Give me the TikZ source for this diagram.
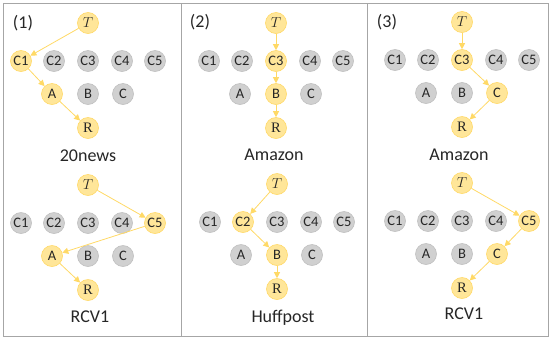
\documentclass[tikz,border=0pt]{standalone}
\usepackage{fontspec}
\setmainfont{Carlito}
\newfontfamily\serifR{Liberation Serif}
\usetikzlibrary{arrows.meta}
\definecolor{yfill}{HTML}{FFE699}
\definecolor{ydraw}{HTML}{FFD966}
\definecolor{gfill}{HTML}{D0D0D0}
\definecolor{gdraw}{HTML}{BFBFBF}
\definecolor{txt}{HTML}{262626}
\definecolor{frame}{HTML}{A6A6A6}
\newcommand\mkpanel[3]{%
  \node[sty T] (#1T) at (#2,#3) {$T$};
  \foreach \n/\dx in {C1/-67,C2/-34,C3/0,C4/34,C5/67}
    \node[sty \n] (#1\n) at (#2+\dx,#3+38) {\n};
  \foreach \n/\dx in {A/-36,B/0,C/35}
    \node[sty \n] (#1\n) at (#2+\dx,#3+71) {\n};
  \node[sty R] (#1R) at (#2,#3+105) {\serifR R};
}
\begin{document}
\begin{tikzpicture}[x=1pt,y=-1pt,
  base/.style={circle,inner sep=0pt,minimum size=21pt,line width=0.6pt,text=txt,font=\fontsize{14.5}{14.5}\selectfont},
  ynode/.style={base,fill=yfill,draw=ydraw},
  gnode/.style={base,fill=gfill,draw=gdraw},
  sty T/.style={ynode},sty R/.style={ynode},
  sty C1/.style={gnode},sty C2/.style={gnode},sty C3/.style={gnode},
  sty C4/.style={gnode},sty C5/.style={gnode},
  sty A/.style={gnode},sty B/.style={gnode},sty C/.style={gnode},
  arr/.style={draw=ydraw,line width=0.8pt,-{Triangle[length=6pt,width=6pt]}},
  lbl/.style={text=txt,font=\fontsize{18}{18}\selectfont,inner sep=0pt},
]
\useasboundingbox (0,0) rectangle (554,346);
\draw[frame,line width=1pt] (3,3) rectangle (548,336);
\draw[frame,line width=1pt] (181.5,3) -- (181.5,336);
\draw[frame,line width=1pt] (367,3) -- (367,336);

\node[lbl] (n1) at (23,23) {(1)};
\node[lbl] (n2) at (200,22) {(2)};
\node[lbl] (n3) at (387,22) {(3)};

% panel 1 top
\begin{scope}[sty C1/.style={ynode},sty A/.style={ynode}]
\mkpanel{a}{88}{23}
\end{scope}
\draw[arr] (aT) -- (aC1);
\draw[arr] (aC1) -- (aA);
\draw[arr] (aA) -- (aR);
\node[lbl] (la) at (88,156) {20news};

% panel 1 bottom
\begin{scope}[sty C5/.style={ynode},sty A/.style={ynode}]
\mkpanel{b}{88}{185}
\end{scope}
\draw[arr] (bT) -- (bC5);
\draw[arr] (bC5) -- (bA);
\draw[arr] (bA) -- (bR);
\node[lbl] (lb) at (90,317) {RCV1};

% panel 2 top
\begin{scope}[sty C3/.style={ynode},sty B/.style={ynode}]
\mkpanel{c}{276}{23}
\end{scope}
\draw[arr] (cT) -- (cC3);
\draw[arr] (cC3) -- (cB);
\draw[arr] (cB) -- (cR);
\node[lbl] (lc) at (274,155) {Amazon};

% panel 2 bottom
\begin{scope}[sty C2/.style={ynode},sty B/.style={ynode}]
\mkpanel{d}{277}{184}
\end{scope}
\draw[arr] (dT) -- (dC2);
\draw[arr] (dC2) -- (dB);
\draw[arr] (dB) -- (dR);
\node[lbl] (ld) at (283,318) {Huffpost};

% panel 3 top
\begin{scope}[sty C3/.style={ynode},sty C/.style={ynode}]
\mkpanel{e}{462}{22}
\end{scope}
\draw[arr] (eT) -- (eC3);
\draw[arr] (eC3) -- (eC);
\draw[arr] (eC) -- (eR);
\node[lbl] (le) at (459,155) {Amazon};

% panel 3 bottom
\begin{scope}[sty C5/.style={ynode},sty C/.style={ynode}]
\mkpanel{f}{462}{183}
\end{scope}
\draw[arr] (fT) -- (fC5);
\draw[arr] (fC5) -- (fC);
\draw[arr] (fC) -- (fR);
\node[lbl] (lf) at (464,314) {RCV1};
\end{tikzpicture}
\end{document}
